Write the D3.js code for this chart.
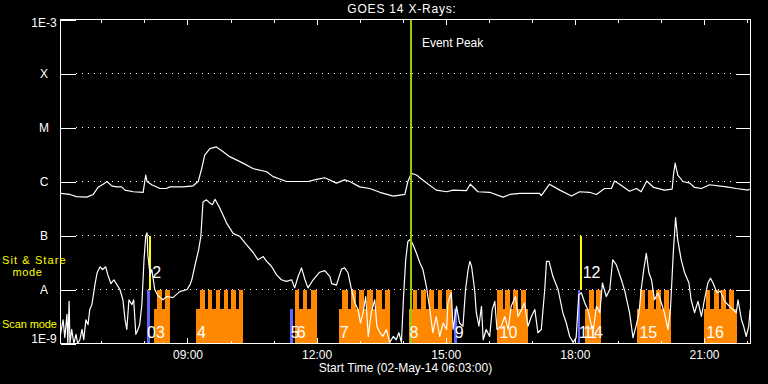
<!DOCTYPE html>
<html>
<head>
<meta charset="utf-8">
<script src="https://cdn.jsdelivr.net/npm/d3@7"></script>
<style>
    body { margin: 0; background: #000; }
    svg { display: block; font-family: "Liberation Sans", Arial, sans-serif; }
</style>
</head>
<body>
<div id="chart"></div>
<script>
// GOES 14 long channel (1-8 A), [hour of day, log10 flux]
const longChannel = [[6.05,-6.22],[6.27,-6.24],[6.42,-6.28],[6.66,-6.29],[6.81,-6.24],[6.93,-6.10],[7.04,-6.05],[7.13,-6.00],[7.24,-6.08],[7.35,-6.10],[7.47,-6.10],[7.55,-6.16],[7.74,-6.19],[7.97,-6.20],[8.03,-5.88],[8.06,-6.00],[8.17,-6.06],[8.36,-6.13],[8.51,-6.13],[8.59,-6.10],[8.90,-6.10],[9.13,-6.08],[9.25,-6.00],[9.33,-5.76],[9.40,-5.51],[9.52,-5.39],[9.67,-5.36],[9.83,-5.45],[9.98,-5.54],[10.29,-5.66],[10.52,-5.76],[10.84,-5.82],[10.99,-5.91],[11.30,-6.00],[11.61,-6.00],[11.80,-6.00],[12.00,-5.96],[12.19,-5.93],[12.46,-6.03],[12.65,-5.97],[12.77,-6.00],[13.00,-6.10],[13.23,-6.13],[13.47,-6.20],[13.78,-6.27],[14.05,-6.24],[14.12,-6.00],[14.20,-5.85],[14.32,-5.88],[14.51,-6.00],[14.78,-6.16],[15.02,-6.19],[15.17,-6.16],[15.48,-6.17],[15.57,-6.05],[15.75,-6.19],[16.02,-6.20],[16.33,-6.29],[16.49,-6.24],[16.72,-6.22],[17.18,-6.22],[17.22,-6.26],[17.41,-6.05],[17.65,-6.16],[17.92,-6.27],[18.11,-6.19],[18.34,-6.20],[18.50,-6.24],[18.69,-6.13],[18.85,-6.13],[18.92,-5.99],[19.04,-6.05],[19.27,-6.18],[19.43,-6.13],[19.54,-6.19],[19.67,-5.99],[19.83,-6.11],[20.08,-6.16],[20.26,-6.14],[20.29,-5.88],[20.33,-5.66],[20.39,-5.88],[20.51,-6.00],[20.67,-6.03],[20.78,-6.11],[20.94,-6.13],[21.13,-6.06],[21.52,-6.10],[21.75,-6.13],[22.02,-6.16],[22.06,-6.14]];

// short channel (0.5-4 A), [hour of day, log10 flux]
const shortChannel = [[6.05,-8.83],[6.11,-8.56],[6.15,-8.89],[6.20,-8.46],[6.22,-9.0],[6.25,-8.22],[6.27,-9.0],[6.31,-8.74],[6.36,-9.0],[6.41,-8.83],[6.45,-9.0],[6.50,-8.93],[6.55,-8.74],[6.59,-8.93],[6.64,-8.56],[6.69,-8.65],[6.73,-8.37],[6.78,-8.28],[6.85,-7.91],[6.90,-7.69],[6.97,-7.58],[7.03,-7.63],[7.10,-7.58],[7.15,-7.73],[7.22,-7.89],[7.29,-7.82],[7.36,-7.91],[7.43,-8.00],[7.50,-8.19],[7.55,-8.56],[7.59,-8.74],[7.64,-8.19],[7.71,-8.28],[7.75,-8.19],[7.80,-8.83],[7.85,-8.74],[7.89,-8.65],[7.94,-8.28],[7.99,-7.45],[8.03,-7.01],[8.06,-6.95],[8.08,-7.36],[8.13,-7.73],[8.17,-7.63],[8.24,-8.00],[8.31,-8.11],[8.43,-8.19],[8.52,-8.13],[8.66,-8.15],[8.82,-8.04],[8.99,-8.00],[9.06,-7.91],[9.10,-7.82],[9.19,-7.50],[9.26,-7.26],[9.31,-7.02],[9.36,-6.38],[9.44,-6.34],[9.52,-6.40],[9.58,-6.43],[9.64,-6.33],[9.75,-6.49],[9.91,-6.77],[10.06,-6.96],[10.22,-7.02],[10.37,-7.17],[10.52,-7.31],[10.64,-7.45],[10.76,-7.39],[10.84,-7.48],[10.95,-7.57],[11.07,-7.73],[11.18,-7.82],[11.30,-7.85],[11.42,-7.82],[11.49,-7.97],[11.57,-7.76],[11.65,-7.60],[11.73,-7.82],[11.80,-7.97],[11.92,-7.82],[12.07,-7.68],[12.19,-7.65],[12.31,-7.76],[12.35,-7.89],[12.46,-7.92],[12.58,-7.62],[12.65,-7.60],[12.73,-7.69],[12.81,-8.00],[12.89,-8.25],[12.96,-8.37],[13.02,-8.62],[13.08,-8.43],[13.14,-8.13],[13.20,-8.87],[13.27,-8.43],[13.35,-8.19],[13.40,-8.68],[13.47,-8.80],[13.54,-8.87],[13.62,-8.74],[13.70,-8.98],[13.78,-8.87],[13.85,-8.93],[13.91,-8.80],[13.97,-8.98],[14.02,-8.13],[14.07,-7.45],[14.12,-7.11],[14.18,-7.07],[14.24,-7.17],[14.32,-7.33],[14.40,-7.51],[14.47,-7.63],[14.55,-7.94],[14.63,-8.37],[14.70,-8.80],[14.78,-8.50],[14.86,-8.87],[14.94,-8.62],[15.02,-8.74],[15.05,-8.25],[15.13,-8.06],[15.17,-8.74],[15.25,-8.31],[15.32,-8.62],[15.40,-8.68],[15.46,-8.00],[15.52,-7.63],[15.56,-7.48],[15.60,-7.57],[15.67,-8.00],[15.71,-8.43],[15.77,-8.68],[15.83,-8.31],[15.87,-8.93],[15.94,-8.74],[16.02,-8.87],[16.08,-8.37],[16.14,-8.22],[16.19,-8.74],[16.29,-8.68],[16.37,-8.50],[16.45,-8.74],[16.52,-8.31],[16.62,-8.13],[16.68,-8.50],[16.76,-8.37],[16.83,-8.25],[16.91,-8.68],[16.99,-8.50],[17.07,-8.37],[17.14,-8.80],[17.22,-8.74],[17.30,-8.00],[17.34,-7.48],[17.40,-7.48],[17.49,-7.76],[17.61,-8.00],[17.72,-8.43],[17.80,-8.62],[17.88,-8.87],[17.96,-8.98],[18.03,-8.89],[18.09,-8.10],[18.15,-8.06],[18.23,-8.25],[18.30,-8.37],[18.42,-8.80],[18.50,-8.31],[18.58,-8.43],[18.64,-7.88],[18.73,-8.13],[18.81,-8.00],[18.88,-7.45],[18.96,-7.54],[19.08,-7.82],[19.16,-8.03],[19.27,-8.43],[19.35,-8.89],[19.43,-8.65],[19.49,-8.43],[19.54,-8.00],[19.60,-7.63],[19.66,-7.33],[19.72,-7.69],[19.78,-7.82],[19.85,-8.19],[19.93,-8.06],[20.01,-8.25],[20.08,-8.43],[20.16,-8.74],[20.22,-8.37],[20.29,-7.26],[20.34,-6.67],[20.39,-7.08],[20.47,-7.45],[20.55,-7.69],[20.65,-7.88],[20.70,-8.19],[20.78,-8.43],[20.86,-8.22],[20.94,-8.50],[21.01,-8.19],[21.09,-7.88],[21.15,-7.79],[21.21,-7.88],[21.30,-8.06],[21.38,-8.03],[21.48,-8.22],[21.59,-8.31],[21.67,-8.37],[21.75,-8.43],[21.79,-8.19],[21.87,-8.56],[21.92,-8.68],[21.98,-8.87],[22.04,-8.68],[22.07,-8.37]];

// scan mode observations: full runs and the individual raster steps
const scanRuns = [[8.22,8.59],[9.19,10.28],[11.49,12.00],[12.52,13.70],[14.15,15.15],[16.20,16.91],[18.23,18.61],[19.44,20.24],[21.01,21.76]];
const scanSteps = [[8.30,8.40],[8.47,8.59],
    [9.29,9.40],[9.48,9.58],[9.66,9.76],[9.84,9.94],[10.01,10.12],[10.19,10.28],
    [11.49,11.60],[11.68,11.78],[11.86,12.00],
    [12.60,12.72],[12.79,12.91],[12.99,13.10],[13.18,13.30],[13.37,13.51],[13.58,13.70],
    [14.23,14.34],[14.42,14.53],[14.61,14.73],[14.81,14.92],[15.00,15.14],
    [16.20,16.32],[16.37,16.49],[16.56,16.68],[16.74,16.86],
    [18.32,18.44],[18.50,18.61],
    [19.52,19.64],[19.71,19.83],[19.89,20.01],[20.07,20.18],
    [21.04,21.15],[21.23,21.35],[21.40,21.52],[21.58,21.69]];
// other observations [start, end, top flux]
const otherObs = [[8.06,8.13,1e-8],[11.38,11.44,4.3e-9],[15.19,15.25,4.3e-9],[18.07,18.13,1e-8]];
const sitStareObs = [[8.10,8.16],[18.11,18.16]];
// observation numbers [hour, text, row]; crowded ones share one text
const obsLabels = [[8.06,"03","low"],[8.18,"2","high"],[9.22,"4","low"],[11.40,"56","low"],
    [12.54,"7","low"],[14.16,"8","low"],[15.21,"9","low"],[16.25,"10","low"],[18.18,"12","high"],
    [18.09,"1114","low"],[19.50,"15","low"],[21.05,"16","low"]];
const tightLabels = ["56", "1114"];

const fluxTicks = [1e-9, 1e-8, 1e-7, 1e-6, 1e-5, 1e-4, 1e-3];
const fluxLabels = ["1E-9", "A", "B", "C", "M", "X", "1E-3"];
const hourTicks = [7, 8, 9, 10, 11, 12, 13, 14, 15, 16, 17, 18, 19, 20, 21, 22];
const hourLabels = [9, 12, 15, 18, 21];
const eventPeak = 14.19;
const scanLevel = 4.3e-9;

const width = 768, height = 384;
const margin = {top: 19.5, left: 60.5, right: 17.5, bottom: 40.5};
const innerW = width - margin.left - margin.right;
const innerH = height - margin.top - margin.bottom;

const svg = d3.select("#chart").append("svg")
    .attr("width", width)
    .attr("height", height)
    .style("background", "#000");

const g = svg.append("g")
    .attr("transform", "translate(" + margin.left + "," + margin.top + ")");

const x = d3.scaleLinear().domain([6.05, 22.08]).range([0, innerW]);
const y = d3.scaleLog().domain([1e-9, 1e-3]).range([innerH, 0]);

g.append("clipPath").attr("id", "plotClip")
    .append("rect").attr("width", innerW).attr("height", innerH);

// dotted class lines
g.selectAll(".grid")
    .data(fluxTicks.slice(1, -1))
    .join("line")
    .attr("x1", 15).attr("x2", innerW - 15)
    .attr("y1", d => y(d)).attr("y2", d => y(d))
    .attr("stroke", "#fff")
    .attr("stroke-dasharray", "1,5")
    .attr("shape-rendering", "crispEdges");

const bars = g.append("g").attr("clip-path", "url(#plotClip)").attr("shape-rendering", "crispEdges");

bars.selectAll(".run")
    .data(scanRuns)
    .join("rect")
    .attr("x", d => x(d[0]))
    .attr("width", d => x(d[1]) - x(d[0]))
    .attr("y", y(scanLevel))
    .attr("height", innerH - y(scanLevel))
    .attr("fill", "#ff8800");

bars.selectAll(".step")
    .data(scanSteps)
    .join("rect")
    .attr("x", d => x(d[0]))
    .attr("width", d => x(d[1]) - x(d[0]))
    .attr("y", y(1e-8))
    .attr("height", innerH - y(1e-8))
    .attr("fill", "#ff8800");

bars.selectAll(".other")
    .data(otherObs)
    .join("rect")
    .attr("x", d => x(d[0]))
    .attr("width", d => x(d[1]) - x(d[0]))
    .attr("y", d => y(d[2]))
    .attr("height", d => innerH - y(d[2]))
    .attr("fill", "#6464ff");

bars.selectAll(".sit")
    .data(sitStareObs)
    .join("rect")
    .attr("x", d => x(d[0]))
    .attr("width", d => x(d[1]) - x(d[0]))
    .attr("y", y(1e-7))
    .attr("height", y(1e-8) - y(1e-7))
    .attr("fill", "#ffff00");

// x-ray curves
const line = d3.line()
    .x(d => x(d[0]))
    .y(d => y(Math.pow(10, Math.max(d[1], -9.2))));

const curves = g.append("g").attr("clip-path", "url(#plotClip)");
[longChannel, shortChannel].forEach(series => {
    curves.append("path")
        .datum(series)
        .attr("d", line)
        .attr("fill", "none")
        .attr("stroke", "#fff")
        .attr("stroke-width", 1.2)
        .attr("stroke-linejoin", "round");
});

// event peak marker
g.append("line")
    .attr("x1", x(eventPeak)).attr("x2", x(eventPeak))
    .attr("y1", 0).attr("y2", innerH)
    .attr("stroke", "#99cc00")
    .attr("stroke-width", 2)
    .attr("shape-rendering", "crispEdges");

g.append("text")
    .attr("x", x(eventPeak) + 11)
    .attr("y", 27)
    .attr("fill", "#fff")
    .attr("font-size", 12)
    .text("Event Peak");

// observation numbers
g.selectAll(".obsLabel")
    .data(obsLabels)
    .join("text")
    .attr("x", d => x(d[0]))
    .attr("y", d => d[2] === "low" ? innerH - 5.5 : y(1e-8) - 11.5)
    .attr("fill", "#fff")
    .attr("font-size", 16)
    .attr("letter-spacing", d => tightLabels.includes(d[1]) ? -3 : 0)
    .text(d => d[1]);

// frame
g.append("rect")
    .attr("width", innerW).attr("height", innerH)
    .attr("fill", "none")
    .attr("stroke", "#fff")
    .attr("shape-rendering", "crispEdges");

// axes
const styleAxis = sel => {
    sel.select(".domain").remove();
    sel.selectAll("line").attr("stroke", "#fff").attr("shape-rendering", "crispEdges");
    sel.selectAll("text").attr("fill", "#fff").attr("font-size", 12).attr("font-family", "Liberation Sans, Arial, sans-serif");
};

g.append("g")
    .attr("transform", "translate(0," + innerH + ")")
    .call(d3.axisTop(x).tickValues(hourTicks).tickSize(3).tickFormat(""))
    .call(styleAxis);
g.append("g")
    .call(d3.axisBottom(x).tickValues(hourTicks).tickSize(3).tickFormat(""))
    .call(styleAxis);
g.append("g")
    .attr("transform", "translate(0," + innerH + ")")
    .call(d3.axisTop(x).tickValues(hourLabels).tickSize(6).tickFormat(""))
    .call(styleAxis);
g.append("g")
    .call(d3.axisBottom(x).tickValues(hourLabels).tickSize(5).tickFormat(""))
    .call(styleAxis);

g.append("g")
    .attr("transform", "translate(0," + innerH + ")")
    .call(d3.axisBottom(x).tickValues(hourLabels).tickSize(0).tickPadding(7)
        .tickFormat(d => d3.format("02")(d) + ":00"))
    .call(styleAxis);

const yAxis = g.append("g")
    .call(d3.axisLeft(y).tickValues(fluxTicks).tickSize(-15).tickPadding(16)
        .tickFormat((d, i) => fluxLabels[i]))
    .call(styleAxis);
yAxis.selectAll("text")
    .attr("text-anchor", "middle")
    .attr("x", -16.5)
    .attr("dy", (d, i) => i === 0 ? "-0.05em" : i === fluxTicks.length - 1 ? "0.62em" : "0.32em");

g.append("g")
    .attr("transform", "translate(" + innerW + ",0)")
    .call(d3.axisRight(y).tickValues(fluxTicks.slice(1, -1)).tickSize(-15).tickFormat(""))
    .call(styleAxis);

// titles
svg.append("text")
    .attr("x", 402).attr("y", 13.3)
    .attr("text-anchor", "middle")
    .attr("fill", "#fff")
    .attr("font-size", 12)
    .attr("letter-spacing", 0.8)
    .text("GOES 14 X-Rays:");

svg.append("text")
    .attr("x", margin.left + innerW / 2).attr("y", 371.5)
    .attr("text-anchor", "middle")
    .attr("fill", "#fff")
    .attr("font-size", 12)
    .text("Start Time (02-May-14 06:03:00)");

// mode legend on the left
const legend = svg.append("g").attr("fill", "#ffff00").attr("font-size", 11);
legend.append("text").attr("x", 2).attr("y", 263.5).attr("letter-spacing", 1.1).text("Sit & Stare");
legend.append("text").attr("x", 12.5).attr("y", 275.5).attr("letter-spacing", 0.6).text("mode");
legend.append("text").attr("x", 2).attr("y", 328).attr("letter-spacing", -0.1).text("Scan mode");
</script>
</body>
</html>
